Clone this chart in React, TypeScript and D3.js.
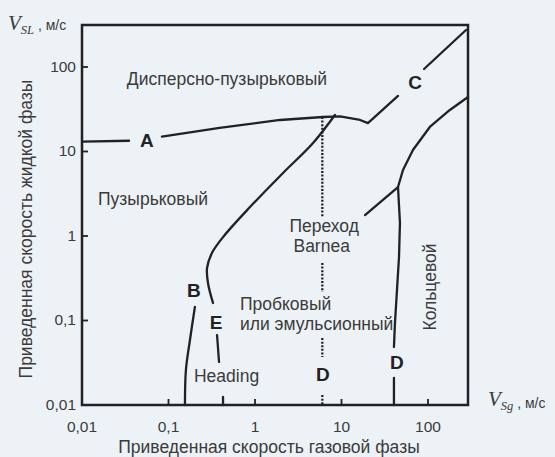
import * as d3 from 'd3'

const W = 555
const H = 457
const BG = '#edf2f6'
const INK = '#222'
const TXT = '#3b3b3b'
const SANS = '"Liberation Sans", Arial, sans-serif'
const SERIF = '"Liberation Serif", "Times New Roman", serif'

type Pt = [number, number]

// decade ticks, both axes
const xTicks = [0.01, 0.1, 1, 10, 100]
const yTicks = [0.01, 0.1, 1, 10, 100]
const fmt = (v: number) => String(v).replace('.', ',')

// boundary A (bubble / dispersed bubble) and its continuation C
const boundaryA: Pt[][] = [
  [[0.01, 13.1], [0.035, 13.4]],
  [[0.084, 15.0], [0.39, 19], [1.95, 23.6], [6.1, 25.6], [9.6, 26], [16.4, 23.6], [20.2, 21.7], [45, 45.4]],
  [[90, 94.6], [275, 274]],
]

// boundary E (bubble -> slug), broken around its label and "Heading"
const boundaryE: Pt[][] = [
  [[8.4, 27], [4.69, 12.6], [2.11, 5.57], [0.875, 2.2], [0.427, 0.97], [0.318, 0.63], [0.279, 0.418], [0.286, 0.278], [0.327, 0.161]],
  [[0.364, 0.0673], [0.384, 0.0323]],
  [[0.427, 0.01245], [0.427, 0.01]],
]

const boundaryB: Pt[][] = [
  [[0.202, 0.145], [0.177, 0.0588], [0.159, 0.026], [0.155, 0.01]],
]

// boundary D (annular) and the Barnea link
const boundaryD: Pt[][] = [
  [[290, 44.2], [179, 31], [105, 19.5], [67, 10.4], [51.4, 6.04], [45, 3.8], [47.4, 1.43], [46.2, 0.56], [43.8, 0.23], [41.5, 0.093], [40.4, 0.0485]],
  [[40.4, 0.0209], [40.4, 0.01]],
  [[45, 3.8], [18.7, 1.77]],
]

// dashed D line (Barnea transition)
const dashedD: Pt[][] = [
  [[6, 25.6], [6, 1.68]],
  [[6, 0.479], [6, 0.217]],
  [[6, 0.062], [6, 0.037]],
  [[6, 0.0131], [6, 0.01]],
]

const letters = [
  { t: 'A', x: 0.0564, y: 13.7 },
  { t: 'B', x: 0.197, y: 0.23 },
  { t: 'E', x: 0.354, y: 0.096 },
  { t: 'C', x: 70.8, y: 66.4 },
  { t: 'D', x: 6.1, y: 0.0233 },
  { t: 'D', x: 43.8, y: 0.0323 },
]

const regions = [
  { t: 'Дисперсно-пузырьковый', x: 0.033, y: 61, anchor: 'start' },
  { t: 'Пузырьковый', x: 0.0153, y: 2.33, anchor: 'start' },
  { t: 'Переход', x: 6.3, y: 1.11, anchor: 'middle' },
  { t: 'Barnea', x: 5.9, y: 0.647, anchor: 'middle' },
  { t: 'Пробковый', x: 0.67, y: 0.133, anchor: 'start' },
  { t: 'или эмульсионный', x: 0.67, y: 0.0773, anchor: 'start' },
  { t: 'Heading', x: 0.197, y: 0.0187, anchor: 'start' },
]

const annular = { t: 'Кольцевой', x: 105, y: 0.249 }

export default function App() {
  const x = d3.scaleLog().domain([0.01, 290]).range([82, 468])
  const y = d3.scaleLog().domain([0.01, 314]).range([405, 25])
  const line = d3.line<Pt>().x((d) => x(d[0])).y((d) => y(d[1]))
  const smooth = d3
    .line<Pt>()
    .x((d) => x(d[0]))
    .y((d) => y(d[1]))
    .curve(d3.curveCatmullRom.alpha(0.5))

  const [x0, x1] = x.range()
  const [y0, y1] = y.range()

  return (
    <svg
      width={W}
      height={H}
      style={{ position: 'absolute', left: 0, top: 0 }}
      fontFamily={SANS}
    >
      <rect width={W} height={H} fill={BG} />

      {/* frame */}
      <rect x={x0} y={y1} width={x1 - x0} height={y0 - y1} fill="none" stroke={INK} strokeWidth={2.5} />

      {/* inner ticks */}
      {xTicks.slice(1).map((v) => (
        <line key={'xt' + v} x1={x(v)} x2={x(v)} y1={y0} y2={y0 - 6} stroke={INK} strokeWidth={1.8} />
      ))}
      {yTicks.slice(1).map((v) => (
        <line key={'yt' + v} x1={x0} x2={x0 + 6} y1={y(v)} y2={y(v)} stroke={INK} strokeWidth={1.8} />
      ))}

      {/* tick labels */}
      {xTicks.map((v) => (
        <text key={'xl' + v} x={x(v)} y={y0 + 27} textAnchor="middle" fontSize={15.5} fill={TXT}>
          {fmt(v)}
        </text>
      ))}
      {yTicks.map((v) => (
        <text key={'yl' + v} x={x0 - 6} y={y(v) + 5} textAnchor="end" fontSize={15.5} fill={TXT}>
          {fmt(v)}
        </text>
      ))}

      {/* boundaries */}
      <g fill="none" stroke={INK} strokeWidth={2.3} strokeLinejoin="round" strokeLinecap="round">
        {boundaryA.map((s, i) => (
          <path key={'a' + i} d={line(s) ?? ''} />
        ))}
        {boundaryE.map((s, i) => (
          <path key={'e' + i} d={smooth(s) ?? ''} />
        ))}
        {boundaryB.map((s, i) => (
          <path key={'b' + i} d={smooth(s) ?? ''} />
        ))}
        {boundaryD.map((s, i) => (
          <path key={'d' + i} d={line(s) ?? ''} />
        ))}
        {dashedD.map((s, i) => (
          <path key={'dd' + i} d={line(s) ?? ''} strokeDasharray="2 1.6" strokeLinecap="butt" />
        ))}
      </g>

      {/* curve letters */}
      {letters.map((l, i) => (
        <text
          key={'l' + i}
          x={x(l.x)}
          y={y(l.y)}
          dy="0.36em"
          textAnchor="middle"
          fontSize={19}
          fontWeight="bold"
          fill={INK}
        >
          {l.t}
        </text>
      ))}

      {/* regime names */}
      {regions.map((r, i) => (
        <text key={'r' + i} x={x(r.x)} y={y(r.y)} textAnchor={r.anchor} fontSize={17.5} fill={TXT}>
          {r.t}
        </text>
      ))}
      <text
        transform={`translate(${x(annular.x)},${y(annular.y)}) rotate(-90)`}
        dy="0.35em"
        textAnchor="middle"
        fontSize={17.5}
        fill={TXT}
      >
        {annular.t}
      </text>

      {/* axis titles */}
      <text
        transform={`translate(26,${(y0 + y1) / 2 + 14}) rotate(-90)`}
        dy="0.35em"
        textAnchor="middle"
        fontSize={17.5}
        fill={TXT}
      >
        Приведенная скорость жидкой фазы
      </text>
      <text x={(x0 + x1) / 2 - 6} y={H - 4} textAnchor="middle" fontSize={17.5} fill={TXT}>
        Приведенная скорость газовой фазы
      </text>

      <text x={8} y={y1 + 5} fill={TXT}>
        <tspan fontFamily={SERIF} fontStyle="italic" fontSize={21}>V</tspan>
        <tspan fontFamily={SERIF} fontStyle="italic" fontSize={12.5} dy={4}>SL</tspan>
        <tspan fontSize={14} dy={-4}> , м/с</tspan>
      </text>
      <text x={x1 + 20} y={y0 + 1} fill={TXT}>
        <tspan fontFamily={SERIF} fontStyle="italic" fontSize={21}>V</tspan>
        <tspan fontFamily={SERIF} fontStyle="italic" fontSize={12.5} dy={4}>Sg</tspan>
        <tspan fontSize={14} dy={-2}> , м/с</tspan>
      </text>
    </svg>
  )
}
